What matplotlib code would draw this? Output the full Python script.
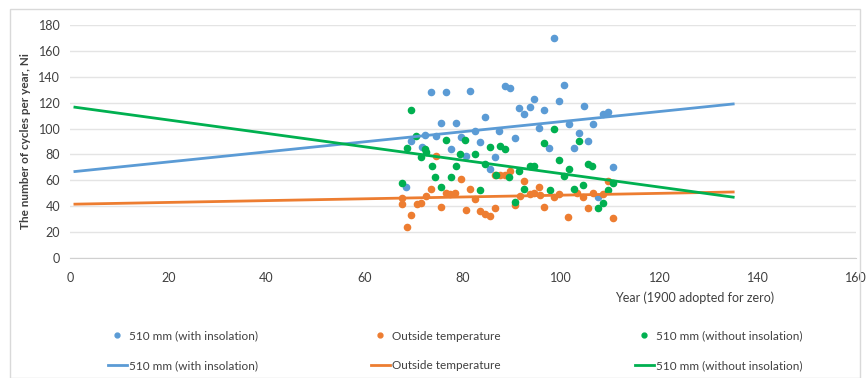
import numpy as np
import matplotlib
matplotlib.use("Agg")
import matplotlib.pyplot as plt
from matplotlib.lines import Line2D
from matplotlib.patches import Rectangle

plt.rcParams['font.family'] = ['Lato', 'DejaVu Sans']

# yearly cycle counts, x = year - 1900
blue_x = [73.5, 76.5, 81.4, 88.5, 89.6, 75.5, 78.5, 84.5, 72.3, 74.5, 82.4, 87.4,
          69.5, 79.5, 83.5, 77.6, 71.6, 98.6, 100.6, 94.5, 91.5, 92.5, 93.6, 96.5,
          99.5, 104.6, 108.6, 109.6, 95.5, 101.6, 106.5, 90.6, 103.6, 105.5, 97.6,
          102.6, 80.7, 86.5, 85.5, 68.4, 110.6, 107.5]
blue_y = [128, 128, 128.8, 133, 131, 104, 104, 108.7, 95.3, 94.3, 98.4, 97.9,
          90.7, 93.7, 89.6, 84, 85.5, 170, 133.4, 122.6, 115.7, 111.5, 116.7, 114.4,
          121.3, 117.2, 111.3, 112.6, 100.7, 103.6, 103.6, 92.5, 96.4, 90.7, 84.8,
          85.3, 78.8, 77.8, 68.5, 55.1, 70.6, 46.9]

orange_x = [74.5, 79.5, 81.4, 73.4, 76.5, 77.4, 78.4, 72.5, 82.4, 67.5, 67.5, 70.6,
            71.4, 75.5, 80.6, 83.5, 84.5, 85.5, 86.5, 69.5, 68.5, 86.5, 87.5, 88.5,
            89.6, 92.4, 95.5, 93.6, 94.5, 91.6, 90.6, 95.7, 98.5, 99.6, 96.5, 101.4,
            103.3, 104.5, 105.5, 106.5, 108.6, 109.6, 110.6]
orange_y = [78.8, 60.8, 53.1, 53.1, 50, 49.5, 50.5, 47.9, 45.4, 46.1, 41.7, 41.7,
            42.7, 39.7, 37.1, 36.6, 34, 32.5, 38.4, 33.2, 24.2, 64.1, 64.1, 64.1,
            67.5, 59.8, 55.1, 49.5, 50.5, 47.9, 41, 48.7, 47.4, 49.5, 39.2, 31.5,
            50, 46.9, 38.4, 50.5, 49.5, 59.8, 30.7]

green_x = [69.5, 70.4, 76.5, 80.5, 85.5, 87.5, 68.5, 72.3, 98.6, 96.5, 103.6, 88.5,
           71.5, 72.5, 79.4, 82.4, 73.6, 78.6, 84.5, 74.3, 77.5, 86.7, 67.5, 75.5,
           83.5, 89.4, 91.5, 93.6, 94.5, 99.6, 101.6, 100.6, 105.5, 106.2, 104.5,
           102.6, 97.7, 92.4, 90.6, 110.6, 109.6, 108.6, 107.5]
green_y = [114.4, 94.3, 91.2, 91.2, 85.5, 86.5, 84.8, 84, 99.7, 88.6, 90.7, 84.2,
           77.8, 82.2, 80.4, 80.4, 71.1, 71.1, 72.6, 62.4, 62.4, 64.1, 58.2, 54.6,
           52.5, 62.4, 67.5, 71.1, 71.1, 75.7, 68.5, 63.4, 72.6, 71.1, 56.4,
           53.1, 52.5, 53.1, 43.5, 58.2, 52.5, 42.7, 38.4]

# linear trend lines (end points)
trend_x = [1, 135]
blue_trend = [66.8, 119]
orange_trend = [41.6, 51]
green_trend = [116.5, 47]

BLUE = '#5B9BD5'
ORANGE = '#ED7D31'
GREEN = '#00B050'
TXT = '#404040'

fig = plt.figure(figsize=(8.68, 3.78), dpi=100)
fig.patches.append(Rectangle((10 / 868, 0), 850 / 868, 1 - 9 / 378, transform=fig.transFigure,
                             fill=False, edgecolor='#d9d9d9', lw=1))
ax = fig.add_axes([70 / 868, 1 - 258 / 378, 786 / 868, 233 / 378])

ax.scatter(blue_x, blue_y, s=20, color=BLUE, zorder=3)
ax.scatter(orange_x, orange_y, s=20, color=ORANGE, zorder=3)
ax.scatter(green_x, green_y, s=20, color=GREEN, zorder=3)
ax.plot(trend_x, blue_trend, color=BLUE, lw=2, zorder=4)
ax.plot(trend_x, orange_trend, color=ORANGE, lw=2, zorder=4)
ax.plot(trend_x, green_trend, color=GREEN, lw=2, zorder=4)

ax.set_xlim(0, 160)
ax.set_ylim(0, 180)
ax.set_xticks(np.arange(0, 161, 20))
ax.set_yticks(np.arange(0, 181, 20))
ax.yaxis.grid(True, color='#e4e4e4', lw=1)
ax.set_axisbelow(True)
for side in ['top', 'right', 'left']:
    ax.spines[side].set_visible(False)
ax.spines['bottom'].set_color('#d0d0d0')
ax.tick_params(length=0, labelsize=9, colors=TXT, pad=7)
ax.tick_params(axis='x', pad=10)

ax.set_ylabel('The number of cycles per year, Ni', fontsize=8.5, color=TXT,
              fontweight='bold', labelpad=5)
fig.text(695 / 868, 1 - 298 / 378, 'Year (1900 adopted for zero)', fontsize=9,
         color=TXT, ha='center', va='center')

labels = ['510 mm (with insolation)', 'Outside temperature', '510 mm (without insolation)']
colors = [BLUE, ORANGE, GREEN]
col_x = [97, 360, 624]
for lab, c, x0 in zip(labels, colors, col_x):
    handles = [Line2D([], [], ls='none', marker='o', ms=3.5, color=c),
               Line2D([], [], color=c, lw=2)]
    fig.legend(handles, [lab, lab], loc='upper left', bbox_to_anchor=(x0 / 868, 1 - 320 / 378),
               frameon=False, fontsize=8.5, handlelength=1.6, handletextpad=0.2,
               labelspacing=1.55, labelcolor=TXT)

fig.savefig('out.png', dpi=100)
